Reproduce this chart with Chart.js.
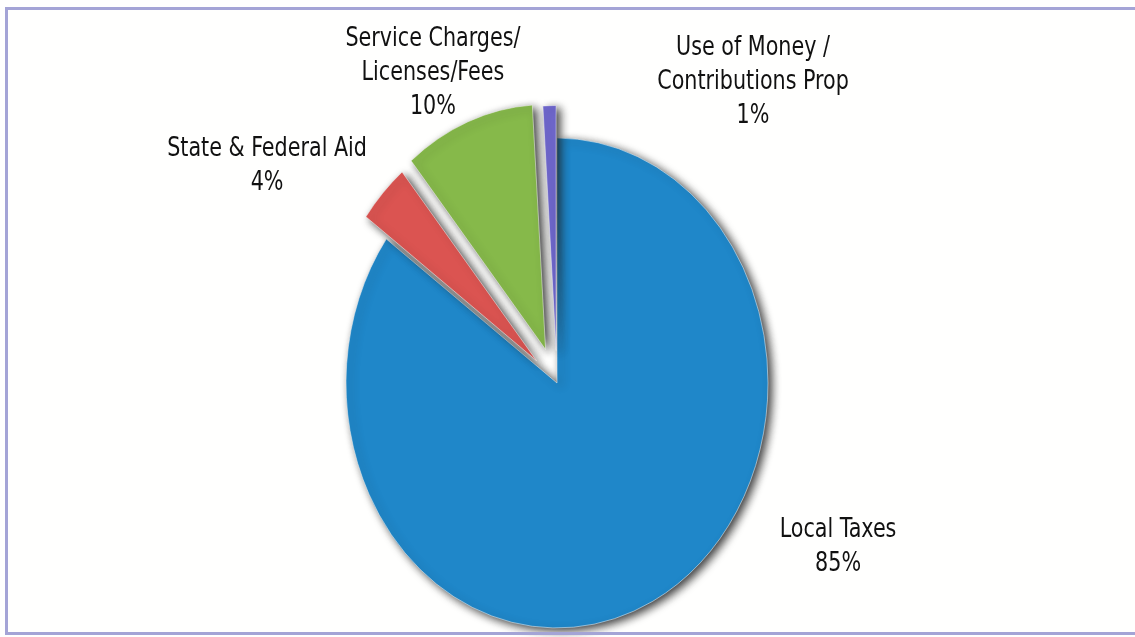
<!DOCTYPE html>
<html>
<head>
<meta charset="utf-8">
<title>Revenue Sources</title>
<script src="https://cdn.jsdelivr.net/npm/chart.js@4/dist/chart.umd.min.js"></script>
<style>
  html, body { margin: 0; padding: 0; background: #ffffff; }
  #wrap { position: relative; width: 1135px; height: 637px; overflow: hidden; background: #fffffe; }
  #wrap canvas { position: absolute; left: 0; top: 0; }
  #frame {
    position: absolute; left: 5px; top: 7px; width: 1140px; height: 622px;
    border: 3px solid #a4a4d6; border-right: none; pointer-events: none;
  }
</style>
</head>
<body>
<div id="wrap">
  <canvas id="chart" width="1135" height="637"></canvas>
  <div id="frame"></div>
</div>
<script>
// Revenue sources, percent of total
const categories = [
  ['Local Taxes'],
  ['State & Federal Aid'],
  ['Service Charges/', 'Licenses/Fees'],
  ['Use of Money /', 'Contributions Prop']
];
const shares = [85, 4, 10, 1];
const sliceColors = ['#1f87c9', '#db5451', '#86b94a', '#7068cf'];
// how far each slice is pulled out from the centre, px
const explode = [0, 28, 31, 28];

// label anchors, relative to the pie centre in units of the radius
const labelOffsetX = [1.332, -1.374, -0.588, 0.929];
const labelOffsetY = [0.671, -0.884, -1.265, -1.229];

const PIE_RADIUS = 211;
const STRETCH_Y = 1.161;
const LINE_HEIGHT = 34;

function pieCentre(chart) {
  const a = chart.chartArea;
  return { x: (a.left + a.right) / 2, y: (a.top + a.bottom) / 2 };
}

// pull the smaller slices out along their mid angle
const explodeSlices = {
  id: 'explodeSlices',
  afterDatasetUpdate(chart, args) {
    const meta = chart.getDatasetMeta(args.index);
    meta.data.forEach((arc, i) => {
      const mid = (arc.startAngle + arc.endAngle) / 2;
      const d = explode[i] || 0;
      arc.x += Math.cos(mid) * d;
      arc.y += Math.sin(mid) * d;
    });
  }
};

// the pie is drawn as a vertical ellipse with a soft drop shadow
const ellipsePie = {
  id: 'ellipsePie',
  beforeDatasetsDraw(chart) {
    const c = pieCentre(chart);
    const ctx = chart.ctx;
    ctx.save();
    ctx.translate(c.x, c.y);
    ctx.scale(1, STRETCH_Y);
    ctx.translate(-c.x, -c.y);
    ctx.shadowColor = 'rgba(30,30,30,0.85)';
    ctx.shadowBlur = 8;
    ctx.shadowOffsetX = 4;
    ctx.shadowOffsetY = 3;
  },
  afterDatasetsDraw(chart) {
    chart.ctx.restore();
  }
};

const sliceLabels = {
  id: 'sliceLabels',
  afterDraw(chart) {
    const ctx = chart.ctx;
    const c = pieCentre(chart);
    const values = chart.data.datasets[0].data;
    ctx.save();
    ctx.fillStyle = '#111111';
    ctx.textAlign = 'center';
    ctx.textBaseline = 'middle';
    ctx.font = '23px "DejaVu Sans Condensed", "DejaVu Sans", sans-serif';
    values.forEach((v, i) => {
      const lines = categories[i].concat([v + '%']);
      const ax = c.x + labelOffsetX[i] * PIE_RADIUS;
      const ay = c.y + labelOffsetY[i] * PIE_RADIUS * STRETCH_Y;
      const top = ay - (lines.length - 1) * LINE_HEIGHT / 2;
      lines.forEach((t, k) => {
        ctx.save();
        ctx.translate(ax, top + k * LINE_HEIGHT);
        ctx.scale(1, STRETCH_Y);
        ctx.fillText(t, 0, 0);
        ctx.restore();
      });
    });
    ctx.restore();
  }
};

new Chart(document.getElementById('chart'), {
  type: 'pie',
  data: {
    labels: categories.map(c => c.join(' ')),
    datasets: [{
      data: shares,
      backgroundColor: sliceColors,
      borderColor: '#f2f2f2',
      borderWidth: 0.5,
      clip: false
    }]
  },
  options: {
    responsive: false,
    animation: false,
    radius: PIE_RADIUS,
    layout: { padding: { left: 0, right: 21, top: 129, bottom: 0 } },
    plugins: {
      legend: { display: false },
      tooltip: { enabled: false }
    }
  },
  plugins: [explodeSlices, ellipsePie, sliceLabels]
});
</script>
</body>
</html>
